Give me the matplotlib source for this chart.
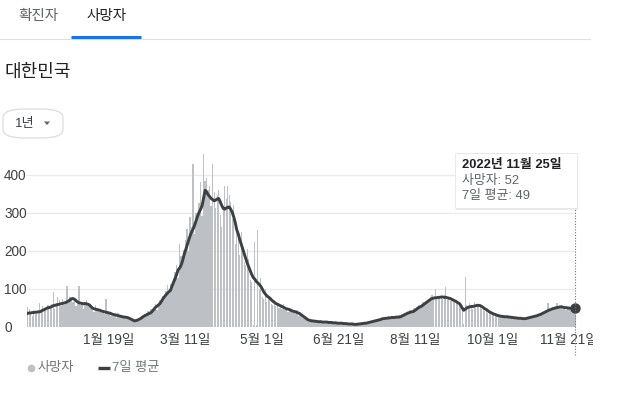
import matplotlib
matplotlib.use('Agg')
import matplotlib.pyplot as plt
import pandas as pd
from matplotlib.patches import FancyBboxPatch, Polygon, Rectangle
from matplotlib.lines import Line2D
from matplotlib.transforms import Bbox, TransformedBbox

# daily deaths, South Korea, 2021-11-26 .. 2022-11-25
start_date = '2021-11-26'
deaths = [
    52, 47, 39, 30, 44, 43, 35,
    38, 63, 40, 56, 45, 50, 58,
    58, 54, 60, 92, 48, 62, 80,
    70, 56, 74, 59, 64, 109, 66,
    78, 72, 65, 70, 55, 60, 108,
    57, 66, 48, 62, 72, 55, 60,
    50, 44, 39, 58, 47, 42, 40,
    37, 44, 35, 75, 40, 36, 30,
    28, 35, 32, 24, 36, 30, 27,
    29, 23, 27, 21, 25, 20, 18,
    15, 14, 19, 21, 17, 24, 28,
    26, 33, 38, 42, 36, 47, 45,
    49, 61, 45, 58, 70, 63, 82,
    78, 95, 110, 88, 112, 101, 130,
    145, 164, 128, 218, 186, 160, 203,
    230, 258, 201, 290, 264, 428, 245,
    300, 285, 326, 381, 292, 455, 384,
    391, 360, 370, 318, 430, 356, 312,
    348, 360, 295, 264, 319, 370, 337,
    372, 348, 330, 285, 320, 218, 264,
    240, 190, 250, 210, 170, 164, 205,
    180, 125, 118, 4, 224, 5, 256,
    98, 130, 80, 75, 100, 66, 82,
    78, 60, 58, 72, 55, 64, 50,
    54, 48, 61, 44, 50, 40, 48,
    46, 37, 40, 35, 44, 30, 33,
    30, 24, 22, 19, 21, 15, 17,
    18, 12, 14, 16, 11, 15, 13,
    12, 14, 10, 15, 11, 13, 9,
    12, 8, 11, 9, 10, 7, 11,
    9, 6, 10, 7, 8, 9, 6,
    7, 6, 8, 9, 7, 10, 9,
    11, 9, 13, 12, 15, 14, 17,
    16, 20, 18, 22, 19, 24, 21,
    25, 22, 28, 20, 26, 30, 23,
    27, 24, 31, 29, 35, 33, 38,
    36, 40, 45, 38, 42, 50, 47,
    53, 58, 49, 61, 65, 60, 68,
    72, 70, 78, 84, 77, 101, 74,
    76, 82, 79, 73, 84, 104, 70,
    80, 68, 74, 66, 72, 63, 60,
    58, 52, 46, 8, 132, 58, 50,
    62, 54, 48, 65, 50, 58, 55,
    60, 47, 52, 42, 45, 38, 40,
    36, 32, 35, 30, 34, 28, 30,
    26, 30, 25, 29, 24, 27, 26,
    24, 27, 22, 25, 21, 24, 23,
    21, 24, 20, 26, 23, 27, 25,
    28, 30, 26, 33, 31, 36, 34,
    38, 42, 40, 64, 47, 41, 50,
    48, 55, 62, 50, 53, 58, 47,
    52, 46, 55, 49, 51, 45, 54,
    52,
]

# 7-day average as drawn on the chart
avg7 = [
    36, 37, 37, 38, 38, 39, 39,
    40, 40, 42, 44, 46, 48, 50,
    51, 52, 54, 56, 57, 58, 59,
    60, 61, 62, 63, 64, 66, 68,
    71, 74, 75, 73, 70, 66, 64,
    63, 62, 61, 62, 61, 60, 58,
    54, 50, 48, 47, 46, 45, 44,
    42, 41, 40, 39, 38, 37, 36,
    34, 33, 32, 31, 30, 29, 28,
    27, 26, 26, 25, 24, 22, 20,
    18, 16, 17, 18, 20, 22, 25,
    28, 30, 32, 34, 36, 38, 42,
    47, 52, 55, 58, 62, 68, 75,
    80, 85, 89, 93, 97, 108, 118,
    127, 138, 150, 155, 162, 175, 190,
    203, 215, 228, 240, 250, 258, 268,
    280, 292, 302, 310, 320, 340, 360,
    355, 348, 343, 338, 335, 332, 334,
    337, 338, 330, 320, 312, 310, 313,
    315, 316, 310, 302, 290, 275, 256,
    245, 230, 218, 205, 193, 180, 168,
    158, 148, 138, 130, 126, 120, 116,
    112, 107, 100, 92, 87, 82, 79,
    76, 72, 68, 65, 62, 60, 58,
    56, 54, 52, 50, 48, 47, 46,
    44, 42, 41, 40, 38, 37, 35,
    32, 29, 26, 23, 20, 18, 17,
    16, 16, 15, 15, 14, 14, 14,
    13, 13, 13, 13, 12, 12, 12,
    11, 11, 11, 10, 10, 10, 10,
    9, 9, 9, 8, 8, 8, 8,
    7, 7, 7, 8, 8, 9, 9,
    10, 10, 11, 12, 13, 14, 15,
    16, 17, 18, 19, 20, 22, 22,
    23, 23, 24, 24, 25, 25, 25,
    26, 26, 26, 27, 29, 31, 33,
    35, 37, 38, 40, 40, 42, 45,
    48, 51, 53, 55, 58, 61, 64,
    67, 70, 73, 75, 76, 77, 77,
    78, 78, 79, 79, 78, 78, 77,
    76, 75, 73, 71, 69, 67, 64,
    62, 57, 50, 44, 47, 50, 52,
    53, 54, 54, 55, 56, 57, 57,
    56, 54, 51, 48, 46, 43, 40,
    38, 36, 34, 33, 31, 30, 29,
    28, 28, 27, 27, 27, 26, 26,
    25, 25, 24, 24, 23, 23, 23,
    22, 22, 22, 23, 24, 25, 26,
    27, 28, 29, 30, 32, 33, 35,
    37, 39, 41, 43, 45, 46, 48,
    49, 50, 51, 52, 53, 53, 52,
    51, 51, 50, 50, 49, 49, 48,
    49,
]

tick_dates = ['2022-01-19', '2022-03-11', '2022-05-01', '2022-06-21',
              '2022-08-11', '2022-10-01', '2022-11-21']
tick_labels = ['1월 19일', '3월 11일', '5월 1일', '6월 21일',
               '8월 11일', '10월 1일', '11월 21일']
y_ticks = [0, 100, 200, 300, 400]

tabs = ['확진자', '사망자']
region = '대한민국'
range_button = '1년'
tooltip_title = '2022년 11월 25일'
tooltip_lines = ['사망자: 52', '7일 평균: 49']
legend_labels = ['사망자', '7일 평균']

assert len(deaths) == len(avg7) == 365

plt.rcParams['font.family'] = ['Liberation Sans', 'Noto Sans CJK KR']

W, H = 617, 393
fig = plt.figure(figsize=(W / 100, H / 100), dpi=100)


def fx(x):
    return x / W


def fy(y):
    return 1 - y / H


BAR = '#bdc1c6'
LINE = '#3c4043'
GREY_TXT = '#5f6368'

# plot area: 0 at y=327px, 400 at y=175px
px_per_val = (327 - 175) / 400
ymax = 460
ax = fig.add_axes([fx(27), fy(327), fx(576) - fx(27), ymax * px_per_val / H])

dates = pd.date_range(start_date, periods=len(deaths), freq='D')
ax.bar(dates, deaths, width=0.9, color=BAR, linewidth=0, zorder=2)
ax.plot(dates, avg7, color=LINE, lw=2.1, zorder=3, solid_joinstyle='round')
ax.plot(dates[-1:], avg7[-1:], 'o', color=LINE, ms=6.5, zorder=4, clip_on=False)

px_per_day = (575 - 27.75) / 364
d0 = pd.Timestamp(start_date)
ax.set_xlim(d0 - pd.Timedelta(hours=12), d0 + pd.Timedelta(days=549 / px_per_day - 0.5))
ax.set_ylim(0, ymax)

for s in ax.spines.values():
    s.set_visible(False)
ax.set_yticks(y_ticks)
ax.set_yticklabels([str(v) for v in y_ticks])
ax.yaxis.grid(True, color='#ebebeb', lw=1, zorder=0)
ax.set_axisbelow(True)
ax.tick_params(axis='y', length=0, pad=23 * 0.72, labelsize=9.8, labelcolor='#3c4043')
for lab in ax.get_yticklabels():
    lab.set_ha('left')

ax.set_xticks(pd.to_datetime(tick_dates))
ax.set_xticklabels(tick_labels)
ax.tick_params(axis='x', length=0, pad=4, labelsize=9.8, labelcolor='#3c4043')
clip = TransformedBbox(Bbox([[0, 0], [fx(593), 1]]), fig.transFigure)
for lab in ax.get_xticklabels():
    lab.set_clip_on(True)
    lab.set_clip_box(clip)

# dotted cursor line at the last day
ax_h = ymax * px_per_val
ax.axvline(dates[-1], ymin=(327 - 355) / ax_h, ymax=(327 - 208) / ax_h,
           color='#70757a', lw=0.8, ls=(0, (1, 1.5)), clip_on=False, zorder=5)

# tooltip box
fig.patches.append(Rectangle((fx(456), fy(210)), fx(122), 57 / H, transform=fig.transFigure,
                             fc='#000000', alpha=0.08, ec='none', zorder=10))
fig.patches.append(Rectangle((fx(455), fy(208)), fx(122), 55 / H, transform=fig.transFigure,
                             fc='white', ec='#e6e6e6', lw=0.6, zorder=11))
fig.text(fx(462), fy(165), tooltip_title, fontsize=9.3, fontweight='bold', color='#202124',
         va='center', ha='left', zorder=12)
fig.text(fx(462), fy(181), tooltip_lines[0], fontsize=9.3, color=GREY_TXT,
         va='center', ha='left', zorder=12)
fig.text(fx(462), fy(196), tooltip_lines[1], fontsize=9.3, color=GREY_TXT,
         va='center', ha='left', zorder=12)

# tabs at the top
fig.text(fx(38), fy(16), tabs[0], fontsize=10.5, color=GREY_TXT, ha='center', va='center')
fig.text(fx(107), fy(16), tabs[1], fontsize=10.5, color='#202124', ha='center', va='center')
fig.add_artist(Line2D([0, fx(590)], [fy(38.5), fy(38.5)], color='#e0e0e0', lw=0.8))
fig.add_artist(Line2D([fx(71), fx(141)], [fy(37), fy(37)], color='#1a73e8', lw=2.2,
                      solid_capstyle='butt'))

fig.text(fx(4), fy(72), region, fontsize=13, color='#202124', ha='left', va='center')

# range selector pill
fig.patches.append(FancyBboxPatch((fx(3), fy(138)), fx(60), 29 / H, transform=fig.transFigure,
                                  boxstyle='round,pad=0,rounding_size=0.035',
                                  fc='white', ec='#dadce0', lw=0.9, mutation_aspect=H / W))
fig.text(fx(15), fy(123.5), range_button, fontsize=9.5, color='#3c4043', ha='left', va='center')
fig.patches.append(Polygon([(fx(44), fy(121.5)), (fx(50), fy(121.5)), (fx(47), fy(125))],
                           closed=True, transform=fig.transFigure, fc='#5f6368', ec='none'))

# legend
fig.add_artist(Line2D([fx(30.5)], [fy(368)], marker='o', ms=4.5, color='#bdc1c6', lw=0))
fig.text(fx(38), fy(368), legend_labels[0], fontsize=9.5, color='#70757a', ha='left', va='center')
fig.add_artist(Line2D([fx(98), fx(110)], [fy(368), fy(368)], color=LINE, lw=2.4,
                      solid_capstyle='butt'))
fig.text(fx(112), fy(368), legend_labels[1], fontsize=9.5, color='#70757a', ha='left', va='center')

fig.savefig('out.png', dpi=100)
